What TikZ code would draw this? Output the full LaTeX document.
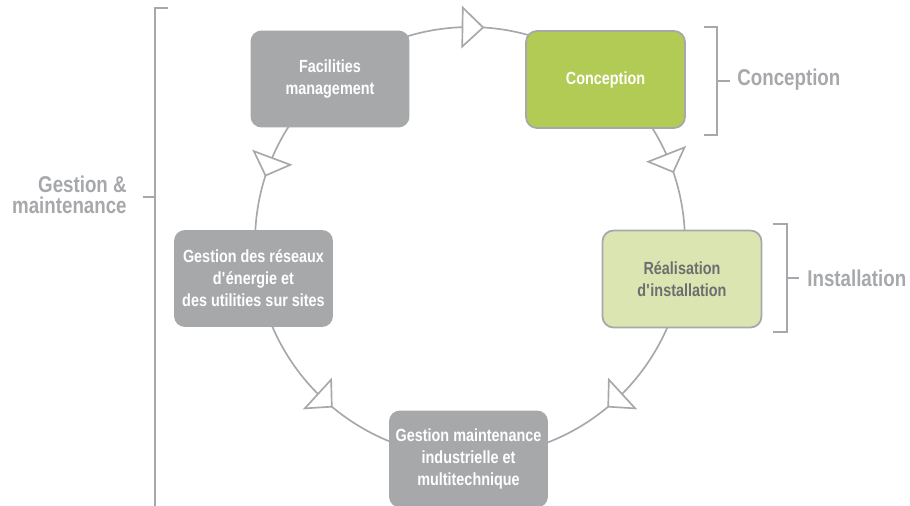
\documentclass[tikz,border=0pt]{standalone}
\usepackage{fontspec}
\setmainfont{Liberation Sans}[FakeStretch=0.82]
\usetikzlibrary{calc}
\definecolor{boxgrey}{HTML}{A7A8AA}
\definecolor{linegrey}{HTML}{A6A8AB}
\definecolor{leafgreen}{HTML}{B1CB54}
\definecolor{palegreen}{HTML}{DAE5B1}
\definecolor{darktext}{HTML}{6D6E70}

\begin{document}
\begin{tikzpicture}[x=0.02cm, y=0.02cm,
    stage/.style={rounded corners=0.22cm, minimum width=3.18cm, minimum height=1.94cm, align=center, font=\fontsize{10}{12.5}\selectfont\bfseries, inner sep=0pt},
    grey box/.style={stage, fill=boxgrey, text=white},
    green box/.style={stage, fill=leafgreen, draw=linegrey, line width=1pt, text=white},
    light box/.style={stage, fill=palegreen, draw=linegrey, line width=1pt, text=darktext},
    ring/.style={draw=linegrey, line width=0.95pt},
    flow tip/.style={draw=linegrey, fill=white, line width=0.95pt, line join=miter},
    phase/.style={font=\fontsize{13}{12}\selectfont\bfseries, text=linegrey, inner sep=0pt, align=right},
    brace/.style={draw=linegrey, line width=0.95pt}
]
    \useasboundingbox (-470,-264) rectangle (440,242);

    \coordinate (hub) at (0,0);
    \draw[ring] (hub) circle[radius=4.3cm];

    \node[grey box] (fac) at (-140,163) {Facilities\\management};
    \node[green box] (conc) at (135.5,162.5) {Conception};
    \node[light box] (real) at (212,-37) {Réalisation\\d\textquotesingle installation};
    \node[grey box] (res) at (-216.5,-36.5) {Gestion des réseaux\\d\textquotesingle énergie et\\des utilities sur sites};
    \node[grey box] (maint) at (-1.5,-217) {Gestion maintenance\\industrielle et\\multitechnique};

    \foreach \b/\a in {92/86.5, 24/19, 157/162, 225/230, 315/310} {
        \coordinate (tb) at (\b:215);
        \coordinate (ta) at (\a:215);
        \filldraw[flow tip] ($(tb)!0.39cm!90:(ta)$) -- (ta) -- ($(tb)!0.39cm!-90:(ta)$) -- cycle;
    }

    \node[phase, anchor=west] (lconc) at (267,162) {Conception};
    \node[phase, anchor=west] (linst) at (337,-36.3) {Installation};
    \node[phase, anchor=east] (lgest) at (-343,47) {Gestion \&\\maintenance};

    \draw[brace] (234,215.3) -- (246.7,215.3) -- (246.7,107) -- (234,107);
    \draw[brace] (246.7,161.3) -- (260,161.3);
    \draw[brace] (302.7,18) -- (316.7,18) -- (316.7,-89.7) -- (302.7,-89.7);
    \draw[brace] (316.7,-36.3) -- (329.3,-36.3);
    \draw[brace] (-302,233.7) -- (-315,233.7) -- (-315,-266);
    \draw[brace] (-327.3,45.3) -- (-315,45.3);
\end{tikzpicture}
\end{document}
